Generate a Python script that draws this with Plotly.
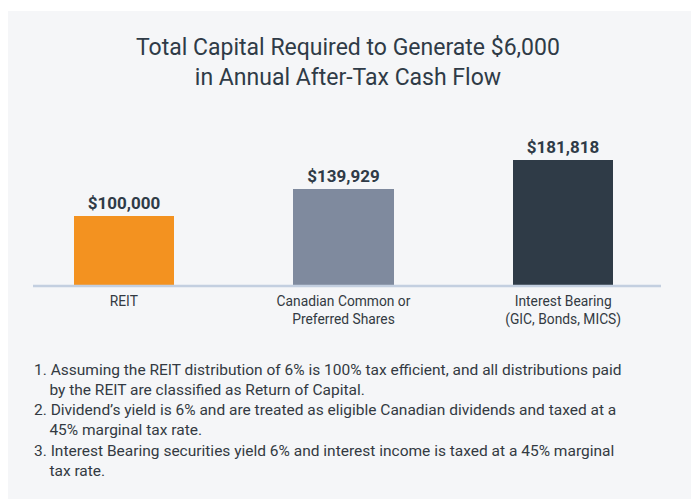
import plotly.graph_objects as go

categories = ["REIT", "Canadian Common or<br>Preferred Shares", "Interest Bearing<br>(GIC, Bonds, MICS)"]
values = [100000, 139929, 181818]
value_labels = ["$100,000", "$139,929", "$181,818"]
bar_colors = ["#f39220", "#7f8a9e", "#2f3b47"]
title_lines = ["Total Capital Required to Generate $6,000", "in Annual After-Tax Cash Flow"]
footnote_lines = [
    ("1. Assuming the REIT distribution of 6% is 100% tax efficient, and all distributions paid", 0),
    ("by the REIT are classified as Return of Capital.", 1),
    ("2. Dividend’s yield is 6% and are treated as eligible Canadian dividends and taxed at a", 0),
    ("45% marginal tax rate.", 1),
    ("3. Interest Bearing securities yield 6% and interest income is taxed at a 45% marginal", 0),
    ("tax rate.", 1),
]

# page body has an 8px default margin; work in reference pixel coords shifted by it
OFF = 8
W, H = 699, 499
ML, MR, MT, MB = 14 - OFF, 26 + OFF, 113 - OFF, 214 + OFF
PW, PH = W - ML - MR, H - MT - MB

def px(x):
    return (x - OFF - ML) / PW

def py(y):
    return (H - MB - (y - OFF)) / PH

FONT = "Roboto"
TEXT = "#2f3b47"

fig = go.Figure()
fig.add_trace(go.Bar(
    x=categories, y=values, marker=dict(color=bar_colors, line=dict(width=0)),
    width=0.456, text=value_labels, textposition="outside",
    textfont=dict(family=FONT, size=17, color=TEXT, weight="bold"),
    cliponaxis=False, hoverinfo="skip",
))

shapes = [
    dict(type="rect", xref="paper", yref="paper", x0=px(8), x1=px(W + 20), y0=py(11), y1=py(H + 20),
         fillcolor="#f5f6f8", line=dict(width=0), layer="below"),
    dict(type="line", xref="paper", yref="paper", x0=px(33), x1=px(661), y0=py(286), y1=py(286),
         line=dict(color="#c3cfe0", width=2.5), layer="above"),
]

annotations = [dict(text="<br>".join(title_lines), xref="paper", yref="paper", x=px(348), y=py(62.5),
                    xanchor="center", yanchor="middle", showarrow=False, align="center",
                    font=dict(family=FONT, size=23, color=TEXT))]

foot_text = "<br>".join(("\u00a0" * 4 if ind else "") + t for t, ind in footnote_lines)
annotations.append(dict(text=foot_text, xref="paper", yref="paper", x=px(32), y=py(420),
                        xanchor="left", yanchor="middle", showarrow=False, align="left",
                        font=dict(family=FONT, size=15.5, color="#333a42")))

fig.update_layout(
    width=W, height=H, margin=dict(l=ML, r=MR, t=MT, b=MB, pad=0),
    paper_bgcolor="white", plot_bgcolor="rgba(0,0,0,0)",
    showlegend=False, bargap=0,
    xaxis=dict(showgrid=False, zeroline=False, showline=False, ticks="", ticklabelstandoff=6,
               tickfont=dict(family=FONT, size=13.8, color="#333a42"), fixedrange=True),
    yaxis=dict(range=[0, 250000], visible=False, fixedrange=True),
    shapes=shapes, annotations=annotations,
)

fig.write_html("out.html")
